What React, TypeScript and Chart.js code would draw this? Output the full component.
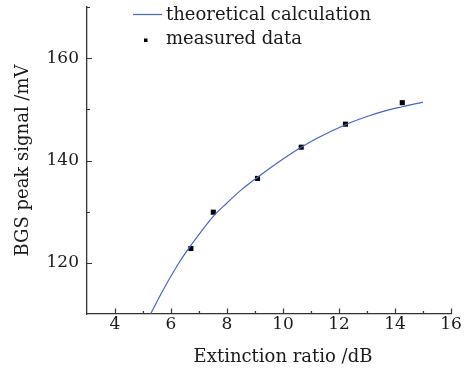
import React, { useEffect, useRef } from "react";
import { Chart, registerables } from "chart.js";

Chart.register(...registerables);

const curveX = [5.27, 5.7, 6.32, 6.71, 7.51, 8.0, 8.52, 9.06, 10.0, 10.65, 11.2, 12.23, 13.0, 13.58, 14.26, 15.0];
const curveY = [110, 114.5, 120.3, 123.4, 129.1, 131.7, 134.3, 136.6, 140.3, 142.6, 144.3, 147.0, 148.6, 149.6, 150.5, 151.4];
const measuredX = [6.71, 7.51, 9.09, 10.65, 12.23, 14.26];
const measuredY = [122.8, 129.9, 136.5, 142.6, 147.1, 151.3];
const xTicks = [4, 6, 8, 10, 12, 14, 16];
const xMinor = [5, 7, 9, 11, 13, 15];
const yTicks = [120, 140, 160];
const yMinor = [130, 150, 170];
const seriesNames = ["theoretical calculation", "measured data"];
const xTitle = "Extinction ratio /dB";
const yTitle = "BGS peak signal /mV";

const FONT = "'DejaVu Serif', serif";
const AXIS = "#333333";
const TEXT = "#1a1a1a";
const BLUE = "#4266c2";

const decorPlugin = {
  id: "decor",
  afterDraw(chart: any) {
    const ctx = chart.ctx;
    const { x, y } = chart.scales;
    const area = chart.chartArea;
    ctx.save();
    ctx.strokeStyle = AXIS;
    ctx.lineWidth = 1.2;
    ctx.beginPath();
    xTicks.forEach((v) => {
      const px = Math.round(x.getPixelForValue(v)) + 0.5;
      ctx.moveTo(px, area.bottom);
      ctx.lineTo(px, area.bottom - 5.5);
    });
    xMinor.forEach((v) => {
      const px = Math.round(x.getPixelForValue(v)) + 0.5;
      ctx.moveTo(px, area.bottom);
      ctx.lineTo(px, area.bottom - 3);
    });
    yTicks.forEach((v) => {
      const py = Math.round(y.getPixelForValue(v)) + 0.5;
      ctx.moveTo(area.left, py);
      ctx.lineTo(area.left + 5, py);
    });
    yMinor.forEach((v) => {
      const py = Math.round(y.getPixelForValue(v)) + 0.5;
      ctx.moveTo(area.left, py);
      ctx.lineTo(area.left + 3, py);
    });
    ctx.stroke();

    // x title
    ctx.fillStyle = TEXT;
    ctx.font = "18px " + FONT;
    ctx.textAlign = "center";
    ctx.textBaseline = "alphabetic";
    ctx.fillText(xTitle, 283, 362);

    // legend
    ctx.strokeStyle = BLUE;
    ctx.lineWidth = 1.2;
    ctx.beginPath();
    ctx.moveTo(133, 14.5);
    ctx.lineTo(162, 14.5);
    ctx.stroke();
    ctx.fillStyle = "#000";
    ctx.fillRect(144, 38.5, 3.5, 3.5);
    ctx.fillStyle = TEXT;
    ctx.textAlign = "left";
    ctx.fillText(seriesNames[0], 166, 20);
    ctx.fillText(seriesNames[1], 166, 43.5);
    ctx.restore();
  },
};

export default function App() {
  const ref = useRef<HTMLCanvasElement | null>(null);
  useEffect(() => {
    if (!ref.current) return;
    const chart = new Chart(ref.current, {
      type: "scatter",
      data: {
        datasets: [
          {
            type: "line",
            label: seriesNames[0],
            data: curveX.map((v, i) => ({ x: v, y: curveY[i] })),
            borderColor: BLUE,
            borderWidth: 1.2,
            pointRadius: 0,
            cubicInterpolationMode: "monotone",
            fill: false,
          } as any,
          {
            label: seriesNames[1],
            data: measuredX.map((v, i) => ({ x: v, y: measuredY[i] })),
            backgroundColor: "#000",
            borderColor: "#000",
            borderWidth: 0,
            pointStyle: "rect",
            pointRadius: 3.6,
            showLine: false,
          },
        ],
      },
      options: {
        animation: false,
        responsive: false,
        maintainAspectRatio: false,
        layout: { padding: { left: 0, top: 7, right: 23, bottom: 0 } },
        plugins: { legend: { display: false }, tooltip: { enabled: false } },
        scales: {
          x: {
            type: "linear",
            min: 3,
            max: 16,
            afterBuildTicks: (s: any) => {
              s.ticks = xTicks.map((v) => ({ value: v }));
            },
            afterFit: (s: any) => {
              s.height = 54;
              s.paddingLeft = 0;
              s.paddingRight = 0;
            },
            grid: { display: true, drawOnChartArea: false, drawTicks: false },
            border: { display: true, color: AXIS, width: 1.3 },
            ticks: { color: TEXT, font: { family: FONT, size: 17 }, padding: 0, maxRotation: 0 },
            title: { display: false },
          },
          y: {
            type: "linear",
            min: 110,
            max: 170,
            afterBuildTicks: (s: any) => {
              s.ticks = yTicks.map((v) => ({ value: v }));
            },
            afterFit: (s: any) => {
              s.width = 87;
              s.paddingTop = 0;
              s.paddingBottom = 0;
            },
            grid: { display: true, drawOnChartArea: false, drawTicks: false },
            border: { display: true, color: AXIS, width: 1.3 },
            ticks: { color: TEXT, font: { family: FONT, size: 17 }, padding: 8 },
            title: {
              display: true,
              text: yTitle,
              color: TEXT,
              font: { family: FONT, size: 18 },
              padding: { top: 13, bottom: 0 },
            },
          },
        },
      },
      plugins: [decorPlugin],
    } as any);
    return () => chart.destroy();
  }, []);
  return (
    <div style={{ position: "absolute", left: 0, top: 0, width: 474, height: 368, background: "#fff" }}>
      <canvas ref={ref} width={474} height={368} />
    </div>
  );
}
